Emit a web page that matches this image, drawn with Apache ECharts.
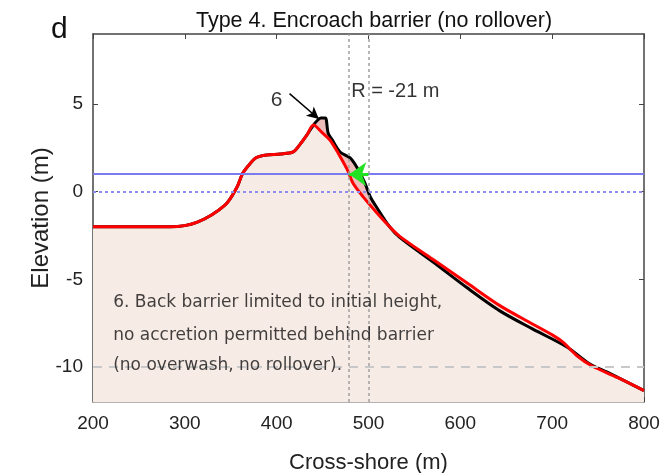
<!DOCTYPE html>
<html><head><meta charset="utf-8">
<script src="https://cdn.jsdelivr.net/npm/echarts@6/dist/echarts.min.js"></script>
<style>html,body{margin:0;padding:0;background:#fff}#c{width:667px;height:473px}</style>
</head><body><div id="c"></div>
<script>
// Initial profile (red)
var redX = [200, 284, 313, 344, 357, 363, 371, 378, 389, 404, 418, 425, 433, 440, 449, 458, 467, 477, 483, 494, 509, 523, 534, 570, 607, 643, 679, 701, 712, 727, 743, 771, 800];
var redY = [-2.0, -2.0, -1.75, -0.75, 0.28, 1.05, 1.6, 1.95, 2.1, 2.15, 2.27, 2.67, 3.24, 3.8, 3.4, 2.95, 2.2, 1.25, 0.5, -0.28, -1.2, -2.0, -2.55, -3.86, -5.2, -6.5, -7.56, -8.2, -8.6, -9.36, -9.93, -10.6, -11.35];
// Final profile (black)
var blackX = [200, 284, 313, 344, 357, 363, 371, 378, 389, 404, 418, 425, 433, 440, 444, 448, 453, 456, 460, 469, 480, 487, 496, 502, 509, 523, 534, 570, 607, 643, 679, 716, 741, 760, 800];
var blackY = [-2.0, -2.0, -1.75, -0.75, 0.28, 1.05, 1.6, 1.95, 2.1, 2.15, 2.27, 2.67, 3.24, 3.8, 4.05, 4.2, 4.2, 3.35, 3.0, 2.27, 1.93, 1.42, 0.5, -0.3, -0.9, -2.0, -2.6, -4.0, -5.47, -6.8, -7.84, -8.86, -9.83, -10.3, -11.35];
var xTicks = [200, 300, 400, 500, 600, 700, 800];
var yTicks = [-10, -5, 0, 5];
var waterLevels = [1, 0];
var deepLevel = -10;
var rLines = [479, 500];
var noteLines = ["6. Back barrier limited to initial height,", "no accretion permitted behind barrier", "(no overwash, no rollover)."];
var noteY = [-6.3, -8.2, -9.95];

function pairs(xs, ys){ return xs.map(function(x,i){return [x, ys[i]];}); }

var chart = echarts.init(document.getElementById('c'), null, {renderer:'canvas'});
var axisCommon = {
  axisLine:{show:true, onZero:false, lineStyle:{color:'#444', width:1.5}},
  splitLine:{show:false}
};
var FONT = 'Liberation Sans';
var option = {
  animation:false,
  backgroundColor:'#fff',
  grid:{left:93, right:23, top:34, bottom:71, containLabel:false, outerBoundsMode:'none'},
  title:[
    {text:'Type 4. Encroach barrier (no rollover)', left:369, top:5, textAlign:'center',
     textStyle:{fontFamily:FONT, fontSize:21.5, fontWeight:'normal', color:'#111'}},
    {text:'d', left:46, top:10, textStyle:{fontFamily:FONT, fontSize:30, fontWeight:'normal', color:'#111'}}
  ],
  xAxis:[
    Object.assign({type:'value', min:200, max:800, position:'bottom',
      name:'Cross-shore (m)', nameLocation:'middle', nameGap:50, nameMoveOverlap:false,
      nameTextStyle:{fontFamily:FONT, fontSize:22, color:'#222'},
      axisTick:{show:true, inside:true, length:5, customValues:xTicks, lineStyle:{color:'#444'}},
      axisLabel:{customValues:xTicks, fontFamily:FONT, fontSize:19, color:'#222', margin:12}
    }, axisCommon, {axisLine:{show:true, onZero:false, lineStyle:{color:'#999', width:1.5}}}),
    Object.assign({type:'value', min:200, max:800, position:'top',
      axisTick:{show:true, inside:true, length:5, customValues:xTicks, lineStyle:{color:'#444'}},
      axisLabel:{show:false}
    }, axisCommon)
  ],
  yAxis:[
    Object.assign({type:'value', min:-12, max:9, position:'left',
      name:'Elevation (m)', nameLocation:'middle', nameGap:40, nameMoveOverlap:false,
      nameTextStyle:{fontFamily:FONT, fontSize:24, color:'#222'},
      axisTick:{show:true, inside:true, length:5, customValues:yTicks, lineStyle:{color:'#444'}},
      axisLabel:{customValues:yTicks, fontFamily:FONT, fontSize:19, color:'#222', margin:10}
    }, axisCommon),
    Object.assign({type:'value', min:-12, max:9, position:'right',
      axisTick:{show:true, inside:true, length:5, customValues:yTicks, lineStyle:{color:'#444'}},
      axisLabel:{show:false}
    }, axisCommon)
  ],
  series:[
    {type:'line', name:'finalFill', data:pairs(blackX, blackY), symbol:'none', smooth:0.3,
     lineStyle:{width:0}, areaStyle:{color:'#efbcbc', opacity:1, origin:'start'}, z:1},
    {type:'line', name:'initFill', data:pairs(redX, redY), symbol:'none', smooth:0.3,
     lineStyle:{width:0}, areaStyle:{color:'#f7ebe5', opacity:1, origin:'start'}, z:1},
    {type:'line', name:'refs', data:[], symbol:'none', z:2,
     markLine:{silent:true, symbol:'none', label:{show:false}, animation:false,
       data:[
         {yAxis:waterLevels[0], lineStyle:{color:'#7b7bf0', width:2, type:'solid'}},
         {yAxis:waterLevels[1], lineStyle:{color:'#8c8cf2', width:2, type:[3,3]}},
         {yAxis:deepLevel, lineStyle:{color:'#c8c8c8', width:2, type:[9,7]}},
         {xAxis:rLines[0], lineStyle:{color:'#a0a0a0', width:1.5, type:[3,3]}},
         {xAxis:rLines[1], lineStyle:{color:'#a0a0a0', width:1.5, type:[3,3]}}
       ]}},
    {type:'line', name:'final', data:pairs(blackX, blackY), symbol:'none', smooth:0.3,
     lineStyle:{color:'#000', width:3}, z:3},
    {type:'line', name:'initial', data:pairs(redX, redY), symbol:'none', smooth:0.3,
     lineStyle:{color:'#ff0000', width:3}, z:4},
    {type:'line', name:'arrows', data:[], symbol:'none', z:5,
     markLine:{silent:true, label:{show:false}, animation:false,
       data:[
         [{coord:[414,5.6], symbol:'none'}, {coord:[446,4.15], symbol:'arrow', symbolSize:[9,12]}],
         [{coord:[500,1], symbol:'none'}, {coord:[479,1], symbol:'arrow', symbolSize:[18,17]}]
       ].map(function(d,i){
         var c = i===0 ? '#000' : '#22e022';
         d[0].lineStyle = {color:c, width: i===0?1.5:3, type:'solid'};
         return d;
       })}},
    {type:'scatter', name:'texts', symbolSize:0, z:6, silent:true,
     data:[
       {value:[400,5.25], label:{show:true, formatter:'6', position:'inside', fontFamily:FONT, fontSize:21, color:'#000'}},
       {value:[480,5.7], label:{show:true, formatter:'R = -21 m', position:'right', distance:1, fontFamily:FONT, fontSize:20, color:'#000'}}
     ].concat(noteLines.map(function(t,i){
       return {value:[222, noteY[i]], label:{show:true, formatter:t, position:'right', distance:0, fontFamily:'DejaVu Sans', fontSize:17, color:'#111'}};
     }))}
  ]
};
chart.setOption(option);
</script></body></html>
